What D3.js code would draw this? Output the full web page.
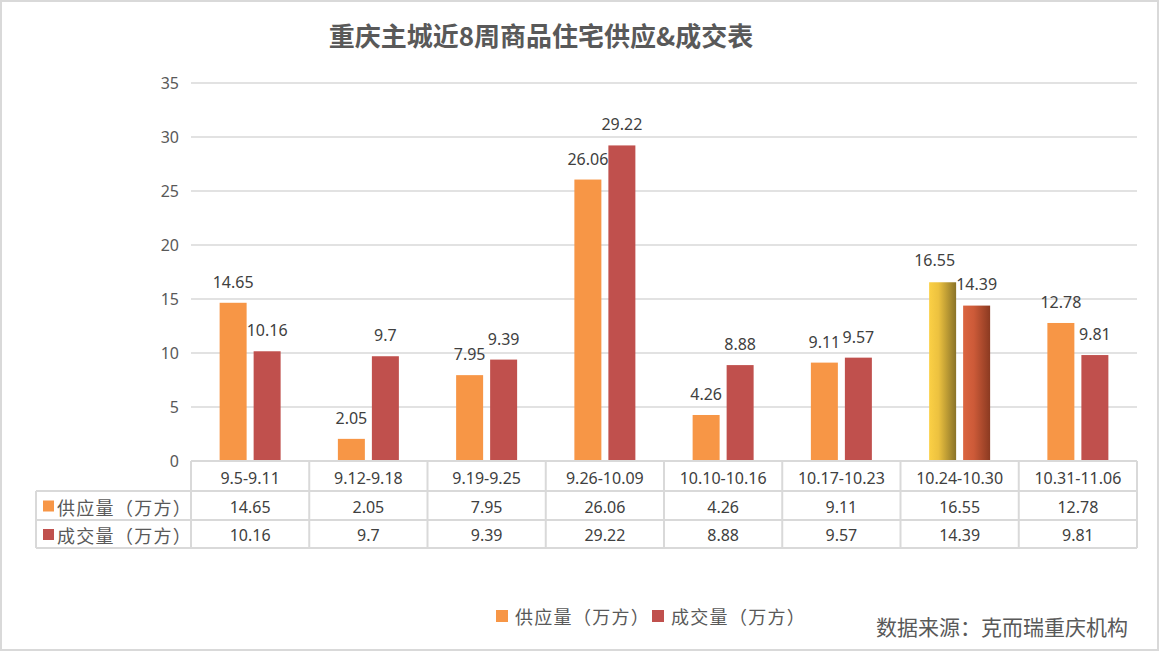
<!DOCTYPE html>
<html>
<head>
<meta charset="utf-8">
<script src="https://cdn.jsdelivr.net/npm/d3@7/dist/d3.min.js"></script>
<style>
  html, body { margin: 0; padding: 0; background: #fff; }
  svg { display: block; }
  text { font-family: "Noto Sans", "Noto Sans CJK SC", sans-serif; }
</style>
</head>
<body>
<svg id="chart" width="1160" height="652"></svg>
<script>
const title = "重庆主城近8周商品住宅供应&成交表";
const categories = ["9.5-9.11", "9.12-9.18", "9.19-9.25", "9.26-10.09", "10.10-10.16", "10.17-10.23", "10.24-10.30", "10.31-11.06"];
const seriesNames = ["供应量（万方）", "成交量（万方）"];
const supplyValues = [14.65, 2.05, 7.95, 26.06, 4.26, 9.11, 16.55, 12.78];
const dealValues = [10.16, 9.7, 9.39, 29.22, 8.88, 9.57, 14.39, 9.81];
const supplyLabels = ["14.65", "2.05", "7.95", "26.06", "4.26", "9.11", "16.55", "12.78"];
const dealLabels = ["10.16", "9.7", "9.39", "29.22", "8.88", "9.57", "14.39", "9.81"];
const yTicks = [0, 5, 10, 15, 20, 25, 30, 35];
const sourceText = "数据来源：克而瑞重庆机构";

const seriesColors = ["#f79646", "#c0504d"];
const highlightIndex = 6;

const W = 1160, H = 652;
const plot = { left: 191, right: 1137, top: 83, bottom: 461 };
const svg = d3.select("#chart");
const cjk = '"Noto Sans CJK SC", "Noto Sans", sans-serif';

// gradients for highlighted week
const defs = svg.append("defs");
const g1 = defs.append("linearGradient").attr("id", "gradSupply").attr("x1", "0%").attr("x2", "100%").attr("y1", "0%").attr("y2", "0%");
g1.append("stop").attr("offset", "0%").attr("stop-color", "#fbd045");
g1.append("stop").attr("offset", "35%").attr("stop-color", "#ecc13f");
g1.append("stop").attr("offset", "100%").attr("stop-color", "#8a7328");
const g2 = defs.append("linearGradient").attr("id", "gradDeal").attr("x1", "0%").attr("x2", "100%").attr("y1", "0%").attr("y2", "0%");
g2.append("stop").attr("offset", "0%").attr("stop-color", "#db6540");
g2.append("stop").attr("offset", "40%").attr("stop-color", "#cc5a38");
g2.append("stop").attr("offset", "100%").attr("stop-color", "#8b3a21");

// outer border
svg.append("rect").attr("x", 1).attr("y", 1).attr("width", W - 3).attr("height", H - 3)
  .attr("fill", "#fff").attr("stroke", "#d9d9d9").attr("stroke-width", 2);

// title
svg.append("text").attr("x", 541).attr("y", 34).attr("text-anchor", "middle").attr("dominant-baseline", "central")
  .style("font-family", cjk).style("font-weight", "bold").style("font-size", "26px").attr("fill", "#595959")
  .text(title);

const x = d3.scaleBand().domain(categories).range([plot.left, plot.right]).paddingInner(0).paddingOuter(0);
const y = d3.scaleLinear().domain([0, 35]).range([plot.bottom, plot.top]);
const xs = d3.scaleBand().domain([0, 1]).range([-30.5, 30.5]).paddingInner(0.206).paddingOuter(0);

// gridlines
svg.append("g").selectAll("line").data(yTicks.filter(t => t > 0)).join("line")
  .attr("x1", plot.left).attr("x2", plot.right)
  .attr("y1", d => y(d)).attr("y2", d => y(d))
  .attr("stroke", "#d9d9d9").attr("stroke-width", 1.5);

// y axis labels
const yAxis = d3.axisLeft(y).tickValues(yTicks).tickSize(0).tickPadding(12);
const ya = svg.append("g").attr("transform", `translate(${plot.left},0)`).call(yAxis);
ya.select(".domain").remove();
ya.selectAll("text").style("font-size", "16px").attr("fill", "#595959").style("font-family", '"Noto Sans", sans-serif');

// bars
const data = [];
categories.forEach((c, i) => {
  [supplyValues[i], dealValues[i]].forEach((v, s) => {
    data.push({ c, i, s, v, label: (s === 0 ? supplyLabels : dealLabels)[i] });
  });
});
const barX = d => x(d.c) + x.bandwidth() / 2 + xs(d.s);
svg.append("g").selectAll("rect").data(data).join("rect")
  .attr("x", barX).attr("width", xs.bandwidth())
  .attr("y", d => y(d.v)).attr("height", d => y(0) - y(d.v))
  .attr("fill", d => d.i === highlightIndex ? (d.s === 0 ? "url(#gradSupply)" : "url(#gradDeal)") : seriesColors[d.s]);

// data labels
svg.append("g").selectAll("text").data(data).join("text")
  .attr("x", d => barX(d) + xs.bandwidth() / 2 + (d.i === highlightIndex && d.s === 0 ? -8 : 0))
  .attr("y", d => y(d.v) - 15 - (d.i === highlightIndex ? 1 : 0))
  .attr("text-anchor", "middle")
  .style("font-size", "16px").attr("fill", "#404040")
  .text(d => d.label);

// data table
const tbl = svg.append("g");
const rowTop = [461, 491, 520, 548];
const tblLeft = 36;
const lineStyle = sel => sel.attr("stroke", "#d9d9d9").attr("stroke-width", 2).attr("fill", "none");
tbl.append("line").attr("x1", plot.left).attr("x2", plot.right).attr("y1", rowTop[0]).attr("y2", rowTop[0]).call(lineStyle);
[1, 2, 3].forEach(r => {
  tbl.append("line").attr("x1", tblLeft).attr("x2", plot.right).attr("y1", rowTop[r]).attr("y2", rowTop[r]).call(lineStyle);
});
const bounds = categories.map(c => x(c)).concat([plot.right]);
tbl.selectAll(".vl").data(bounds).join("line")
  .attr("x1", d => d).attr("x2", d => d).attr("y1", rowTop[0]).attr("y2", rowTop[3]).call(lineStyle);
tbl.append("line").attr("x1", tblLeft).attr("x2", tblLeft).attr("y1", rowTop[1]).attr("y2", rowTop[3]).call(lineStyle);

tbl.selectAll(".cat").data(categories).join("text")
  .attr("x", d => x(d) + x.bandwidth() / 2).attr("y", (rowTop[0] + rowTop[1]) / 2 + 1.5)
  .attr("text-anchor", "middle").attr("dominant-baseline", "central")
  .style("font-size", "16px").attr("fill", "#404040").text(d => d);

[supplyLabels, dealLabels].forEach((labels, r) => {
  const cy = (rowTop[r + 1] + rowTop[r + 2]) / 2 + 1;
  tbl.selectAll(".v" + r).data(labels).join("text")
    .attr("x", (d, i) => x(categories[i]) + x.bandwidth() / 2).attr("y", cy)
    .attr("text-anchor", "middle").attr("dominant-baseline", "central")
    .style("font-size", "16px").attr("fill", "#404040").text(d => d);
  tbl.append("rect").attr("x", 43).attr("y", cy - 6).attr("width", 11).attr("height", 11).attr("fill", seriesColors[r]);
  tbl.append("text").attr("x", 57).attr("y", cy).attr("dominant-baseline", "central")
    .style("font-family", cjk).style("font-size", "18px").style("letter-spacing", "1.3px").attr("fill", "#595959").text(seriesNames[r]);
});

// legend
const legendItems = [{ x: 496 }, { x: 652 }];
seriesNames.forEach((n, s) => {
  const lx = legendItems[s].x;
  svg.append("rect").attr("x", lx).attr("y", 610).attr("width", 12).attr("height", 12).attr("fill", seriesColors[s]);
  svg.append("text").attr("x", lx + 19).attr("y", 616).attr("dominant-baseline", "central")
    .style("font-family", cjk).style("font-size", "18px").style("letter-spacing", "1.3px").attr("fill", "#595959").text(n);
});

// source
svg.append("text").attr("x", 1128).attr("y", 626).attr("text-anchor", "end").attr("dominant-baseline", "central")
  .style("font-family", cjk).style("font-size", "21px").attr("fill", "#595959").text(sourceText);
</script>
</body>
</html>
